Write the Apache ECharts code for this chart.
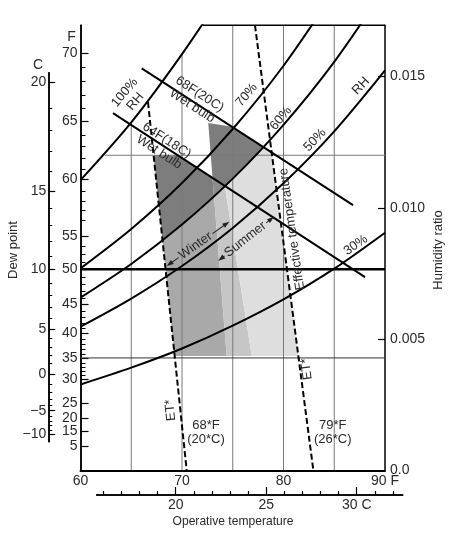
<!DOCTYPE html>
<html>
<head>
<meta charset="utf-8">
<script src="https://cdn.jsdelivr.net/npm/echarts@6/dist/echarts.min.js"></script>
<style>
html, body { margin: 0; padding: 0; background: #fff; }
#main { width: 465px; height: 539px; }
</style>
</head>
<body>
<div id="main"></div>
<script>
// ---- data: x = operative temperature (F), y = humidity ratio ----
const W_MAX = 0.01695;

// relative humidity curves
const rh100 = [[60, 0.01105], [65, 0.01325], [70, 0.01585], [75, 0.01874]];
const rh70 = [[60, 0.00769], [65, 0.00919], [70, 0.01094], [75, 0.01300], [80, 0.01541], [85, 0.01823]];
const rh60 = [[60, 0.00658], [65, 0.00786], [70, 0.00936], [75, 0.01111], [80, 0.01316], [85, 0.01556], [90, 0.01837]];
const rh50 = [[60, 0.00547], [65, 0.00654], [70, 0.00778], [75, 0.00923], [80, 0.01093], [85, 0.01291], [90, 0.01523]];
const rh30 = [[60, 0.00327], [65, 0.00391], [70, 0.00464], [75, 0.00551], [80, 0.00651], [85, 0.00768], [90, 0.00905]];

// wet bulb lines and effective temperature lines
const wetBulb68 = [[66.03, 0.01531], [86.85, 0.010103]];
const wetBulb64 = [[63.2, 0.013603], [88.03, 0.007359]];
const et68 = [[66.65, 0.014025], [70.46, 0]];
const et79 = [[77.19, W_MAX], [82.94, 0]];

// reference lines
const dewLine50 = [[60, 0.00766], [90, 0.00766]];
const dewLine35 = [[60, 0.00428], [90, 0.00428]];
const wLine012 = [[62.4, 0.012], [90, 0.012]];
const gridTemps = [65, 70, 75, 80, 85];
const gridTops = [0.01325, 0.01585, W_MAX, W_MAX, W_MAX];

// comfort zones
const winterLight = [[68.07, 0.00878], [70, 0.00936], [72.5, 0.01019], [73.15, 0.01046], [74.40, 0.004352], [69.28, 0.004352]];
const overlapLight = [[73.15, 0.01046], [74.21, 0.010834], [76.87, 0.004352], [74.40, 0.004352]];
const summerLight = [[74.21, 0.010834], [75, 0.01111], [77.5, 0.01211], [77.97, 0.01232], [78.84, 0.012107], [81.47, 0.004352], [76.87, 0.004352]];
const winterDark = [[67.20, 0.012], [69.57, 0.012], [73.01, 0.011135], [73.15, 0.01046], [72.5, 0.01019], [70, 0.00936], [68.07, 0.00878]];
const overlapDark = [[73.01, 0.011135], [74.21, 0.010834], [73.15, 0.01046]];
const summerDark = [[72.585, 0.013225], [74.93, 0.013084], [77.97, 0.01232], [77.5, 0.01211], [75, 0.01111], [74.21, 0.010834], [73.01, 0.011135]];

// axis ticks
const tempF = [60, 70, 80, 90];
const tempC = [20, 25, 30];
const tempCMinor = [16, 17, 18, 19, 21, 22, 23, 24, 26, 27, 28, 29, 31, 32];
const wTicks = [0.005, 0.010, 0.015];
const wLabels = [0, 0.005, 0.010, 0.015];
const dewF = [70, 65, 60, 55, 50, 45, 40, 35, 30, 25, 20, 15, 5];
const dewFW = [0.01590, 0.01330, 0.01108, 0.00893, 0.00766, 0.00632, 0.00523, 0.00428, 0.00346, 0.00256, 0.00199, 0.00150, 0.00093];
const dewFMinorW = [0.003605, 0.003775, 0.003932, 0.004092, 0.004435, 0.004613, 0.004797, 0.004992,
  0.005403, 0.005619, 0.005843, 0.006073, 0.006560, 0.006819, 0.007087, 0.007361,
  0.007927, 0.008223, 0.008533, 0.009536, 0.009893, 0.010263, 0.010646,
  0.011458, 0.011884, 0.012325, 0.012780, 0.013800, 0.014300, 0.014800, 0.015350];
const dewC = [20, 15, 10, 5, 0, -5, -10];
const dewCW = [0.01478, 0.01063, 0.00767, 0.00539, 0.00366, 0.00227, 0.00137];
const dewCMinorW = [0.013791, 0.012945, 0.012134, 0.011371, 0.009969, 0.009334, 0.008733, 0.008168,
  0.007134, 0.006658, 0.006212, 0.005793, 0.005037, 0.004689, 0.004365, 0.004061,
  0.00326, 0.00298, 0.00272, 0.00248, 0.00206, 0.00187, 0.00170, 0.00154];

// ---- chart ----
const FONT = "'Liberation Sans',Arial,sans-serif";
const TXT = '#2a2a2a';

const notes = [
  { at: [64.88, 0.014215], text: '100%\nRH', rot: 50 },
  { at: [76.37, 0.014292], text: '70%', rot: 50 },
  { at: [79.73, 0.013404], text: '60%', rot: 50 },
  { at: [83.10, 0.012578], text: '50%', rot: 46 },
  { at: [87.62, 0.014642], text: 'RH', rot: 46 },
  { at: [87.12, 0.00858], text: '30%', rot: 35 },
  { at: [71.36, 0.014101], text: '68F(20C)\nWet bulb', rot: -33 },
  { at: [68.13, 0.012338], text: '64F(18C)\nWet bulb', rot: -33 },
  { at: [80.84, 0.009189], text: 'Effective temperature', rot: 98 },
  { at: [82.29, 0.003858], text: 'ET*', rot: 98 },
  { at: [68.87, 0.002296], text: 'ET*', rot: 96 },
  { at: [72.36, 0.00144], text: '68*F\n(20*C)', rot: 0 },
  { at: [84.85, 0.00144], text: '79*F\n(26*C)', rot: 0 }
];
const arrows = [
  { from: [68.49, 0.00778], to: [74.66, 0.009467], text: 'Winter', shift: -3 },
  { from: [73.58, 0.00798], to: [79.06, 0.009657], text: 'Summer', shift: -1 }
];

const measureCtx = document.createElement('canvas').getContext('2d');

function area(points, color) {
  return {
    type: 'custom', silent: true, z: 1, animation: false,
    data: [[60, 0]],
    renderItem: (p, api) => ({
      type: 'polygon',
      shape: { points: points.map(pt => api.coord(pt)) },
      style: { fill: color }
    })
  };
}

function line(data, extra) {
  return Object.assign({
    type: 'line', data: data, symbol: 'none', silent: true, z: 3, animation: false,
    lineStyle: { color: '#000', width: 2 }
  }, extra || {});
}

function lookup(values, labels) {
  return v => {
    for (let i = 0; i < values.length; i++) {
      if (Math.abs(values[i] - v) < 1e-7) return String(labels[i]);
    }
    return '';
  };
}

const series = [
  area(winterLight, '#a9a9a9'),
  area(overlapLight, '#c6c6c6'),
  area(summerLight, '#dedede'),
  area(winterDark, '#7d7d7d'),
  area(overlapDark, '#8d8d8d'),
  area(summerDark, '#7d7d7d')
];

gridTemps.forEach((t, i) => {
  series.push(line([[t, 0], [t, gridTops[i]]], { z: 2, lineStyle: { color: '#7a7a7a', width: 1 } }));
});
series.push(line(wLine012, { z: 2, lineStyle: { color: '#7a7a7a', width: 1 } }));
series.push(line(dewLine35, { z: 2, lineStyle: { color: '#333', width: 1 } }));
series.push(line(dewLine50, { lineStyle: { color: '#000', width: 2.5 } }));
series.push(line([[72.0, W_MAX], [90, W_MAX]], { clip: false, lineStyle: { color: '#000', width: 1.5 } }));

[rh100, rh70, rh60, rh50, rh30].forEach(c => series.push(line(c, { smooth: 0.3 })));
series.push(line(wetBulb68));
series.push(line(wetBulb64));
series.push(line(et68, { lineStyle: { color: '#000', width: 2, type: [6, 3] } }));
series.push(line(et79, { lineStyle: { color: '#000', width: 2, type: [6, 3] } }));

series.push({
  type: 'custom', silent: true, z: 10, animation: false,
  data: notes.map(() => [60, 0]),
  renderItem: (p, api) => {
    const n = notes[p.dataIndex];
    const c = api.coord(n.at);
    return {
      type: 'text', x: c[0], y: c[1], rotation: n.rot * Math.PI / 180,
      style: { text: n.text, fill: TXT, font: '13px ' + FONT, align: 'center', verticalAlign: 'middle', lineHeight: 14 }
    };
  }
});

series.push({
  type: 'custom', silent: true, z: 10, animation: false,
  data: arrows.map(() => [60, 0]),
  renderItem: (p, api) => {
    const a = arrows[p.dataIndex];
    const c1 = api.coord(a.from), c2 = api.coord(a.to);
    const dx = c2[0] - c1[0], dy = c2[1] - c1[1];
    const L = Math.sqrt(dx * dx + dy * dy);
    measureCtx.font = '13px ' + FONT;
    const w = measureCtx.measureText(a.text).width;
    const h = L / 2, s = a.shift, gap = 2;
    const st = { stroke: '#222', lineWidth: 1 };
    return {
      type: 'group', x: (c1[0] + c2[0]) / 2, y: (c1[1] + c2[1]) / 2, rotation: -Math.atan2(dy, dx),
      children: [
        { type: 'line', shape: { x1: -h + 3, y1: 0, x2: s - w / 2 - gap, y2: 0 }, style: st },
        { type: 'line', shape: { x1: s + w / 2 + gap, y1: 0, x2: h - 3, y2: 0 }, style: st },
        { type: 'polygon', shape: { points: [[-h, 0], [-h + 7, -2.5], [-h + 7, 2.5]] }, style: { fill: '#222' } },
        { type: 'polygon', shape: { points: [[h, 0], [h - 7, -2.5], [h - 7, 2.5]] }, style: { fill: '#222' } },
        { type: 'text', x: s, y: 0, style: { text: a.text, fill: TXT, font: '13px ' + FONT, align: 'center', verticalAlign: 'middle' } }
      ]
    };
  }
});

const axisLbl = { color: TXT, fontFamily: FONT, fontSize: 14 };
const blackLine = { show: true, lineStyle: { color: '#000', width: 1.5 } };

const option = {
  animation: false,
  grid: [
    { left: 80.5, right: 80, top: 25.3, bottom: 68.7 },
    { left: 48.3, width: 5, top: 72.7, bottom: 97.3 },
    { left: 96.7, right: 62.3, bottom: 44, height: 5 }
  ],
  xAxis: [
    {
      gridIndex: 0, type: 'value', min: 60, max: 90, axisLine: { show: true, lineStyle: { color: '#000', width: 2 } },
      axisTick: { show: false }, splitLine: { show: false },
      axisLabel: Object.assign({ customValues: tempF, margin: 4, formatter: v => v === 90 ? '90 F' : String(v) }, axisLbl)
    },
    { gridIndex: 1, type: 'value', show: false, min: 0, max: 1 },
    {
      gridIndex: 2, type: 'value', min: 15.635, max: 32.54, position: 'bottom', axisLine: blackLine,
      axisTick: { show: true, inside: true, length: 8, customValues: tempC, lineStyle: { color: '#000', width: 1.2 } },
      splitLine: { show: false },
      axisLabel: Object.assign({ customValues: tempC, margin: 3, formatter: v => v === 30 ? '30 C' : String(v) }, axisLbl)
    },
    {
      gridIndex: 2, type: 'value', min: 15.635, max: 32.54, position: 'bottom', axisLine: blackLine,
      axisTick: { show: true, inside: true, length: 4, customValues: tempCMinor, lineStyle: { color: '#000', width: 1.2 } },
      splitLine: { show: false }, axisLabel: { show: false }
    }
  ],
  yAxis: [
    {
      gridIndex: 0, type: 'value', min: 0, max: W_MAX, position: 'left', axisLine: blackLine,
      axisTick: { show: true, inside: true, length: 8, customValues: dewFW, lineStyle: { color: '#000', width: 1.2 } },
      splitLine: { show: false },
      axisLabel: Object.assign({ customValues: dewFW, margin: 3, formatter: lookup(dewFW, dewF) }, axisLbl)
    },
    {
      gridIndex: 0, type: 'value', min: 0, max: W_MAX, position: 'right', axisLine: blackLine,
      axisTick: { show: true, inside: true, length: 7, customValues: wTicks, lineStyle: { color: '#000', width: 1.2 } },
      splitLine: { show: false },
      axisLabel: Object.assign({ customValues: wLabels, margin: 5, formatter: v => v === 0 ? '0.0' : v.toFixed(3) }, axisLbl)
    },
    {
      gridIndex: 0, type: 'value', min: 0, max: W_MAX, position: 'left', axisLine: blackLine,
      axisTick: { show: true, inside: true, length: 5, customValues: dewFMinorW, lineStyle: { color: '#000', width: 1 } },
      splitLine: { show: false }, axisLabel: { show: false }
    },
    {
      gridIndex: 1, type: 'value', min: 0.001089, max: 0.015141, position: 'left', axisLine: blackLine,
      axisTick: { show: true, inside: true, length: 7, customValues: dewCW, lineStyle: { color: '#000', width: 1.2 } },
      splitLine: { show: false },
      axisLabel: Object.assign({ customValues: dewCW, margin: 2, formatter: lookup(dewCW, dewC.map(v => v < 0 ? '\u2212' + (-v) : v)) }, axisLbl)
    },
    {
      gridIndex: 1, type: 'value', min: 0.001089, max: 0.015141, position: 'left', axisLine: blackLine,
      axisTick: { show: true, inside: true, length: 4, customValues: dewCMinorW, lineStyle: { color: '#000', width: 1 } },
      splitLine: { show: false }, axisLabel: { show: false }
    },
    { gridIndex: 2, type: 'value', show: false, min: 0, max: 1 }
  ],
  graphic: [
    { type: 'text', x: 71.5, y: 37, style: { text: 'F', fill: TXT, font: '14px ' + FONT, align: 'center', verticalAlign: 'middle' } },
    { type: 'text', x: 38, y: 65, style: { text: 'C', fill: TXT, font: '14px ' + FONT, align: 'center', verticalAlign: 'middle' } },
    { type: 'text', x: 13, y: 250, rotation: Math.PI / 2, style: { text: 'Dew point', fill: TXT, font: '13px ' + FONT, align: 'center', verticalAlign: 'middle' } },
    { type: 'text', x: 438, y: 250, rotation: Math.PI / 2, style: { text: 'Humidity ratio', fill: TXT, font: '13px ' + FONT, align: 'center', verticalAlign: 'middle' } },
    { type: 'text', x: 233, y: 521.7, scaleX: 0.93, style: { text: 'Operative temperature', fill: TXT, font: '13px ' + FONT, align: 'center', verticalAlign: 'middle' } }
  ],
  series: series
};

const chart = echarts.init(document.getElementById('main'), null, { renderer: 'canvas' });
chart.setOption(option);
</script>
</body>
</html>
